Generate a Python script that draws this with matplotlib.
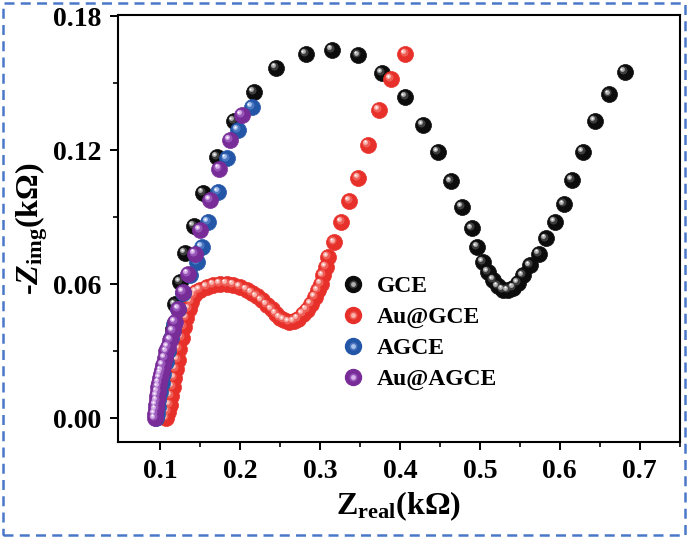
import matplotlib
matplotlib.use("Agg")
import matplotlib.pyplot as plt
from matplotlib.transforms import ScaledTranslation
from matplotlib.patches import Rectangle
from matplotlib.lines import Line2D
from matplotlib.legend_handler import HandlerTuple

# ---------------- data ----------------
gce_x = [0.108, 0.110, 0.112, 0.114, 0.116, 0.119, 0.125, 0.131, 0.142, 0.154, 0.171, 0.192,
         0.217, 0.245, 0.282, 0.315, 0.348, 0.378, 0.407, 0.429, 0.448, 0.464, 0.478, 0.490,
         0.497, 0.504, 0.510, 0.517, 0.523, 0.529, 0.535, 0.542, 0.548, 0.554, 0.5625, 0.574,
         0.583, 0.594, 0.605, 0.615, 0.629, 0.644, 0.662, 0.681]
gce_y = [0.005, 0.012, 0.020, 0.030, 0.040, 0.051, 0.061, 0.074, 0.086, 0.101, 0.117, 0.133,
         0.146, 0.157, 0.163, 0.165, 0.1625, 0.1546, 0.1439, 0.1312, 0.1193, 0.1061, 0.0946, 0.085,
         0.0767, 0.070, 0.0655, 0.0618, 0.0591, 0.0576, 0.0573, 0.0585, 0.0606, 0.064, 0.0685, 0.0737,
         0.0805, 0.0879, 0.0958, 0.1066, 0.1193, 0.1331, 0.145, 0.1551]

augce_x = [0.108, 0.110, 0.112, 0.114, 0.116, 0.118, 0.120, 0.122, 0.124, 0.127, 0.130, 0.133,
           0.136, 0.139, 0.142, 0.145, 0.150, 0.1584, 0.1667, 0.175, 0.1833, 0.1917, 0.200, 0.2083,
           0.2146, 0.2208, 0.2271, 0.2333, 0.2396, 0.245, 0.250, 0.2554, 0.2617, 0.2675, 0.2729,
           0.2783, 0.2833, 0.2888, 0.2938, 0.2979, 0.3013, 0.3042, 0.3075, 0.310, 0.318, 0.327,
           0.337, 0.348, 0.360, 0.374, 0.389, 0.407]
augce_y = [0.000, 0.003, 0.006, 0.010, 0.014, 0.018, 0.022, 0.026, 0.031, 0.036, 0.041, 0.045,
           0.049, 0.052, 0.055, 0.0565, 0.0575, 0.0588, 0.0599, 0.0603, 0.0603, 0.0599, 0.0588, 0.0576,
           0.0563, 0.0546, 0.0528, 0.0509, 0.0488, 0.0469, 0.0451, 0.0439, 0.0431, 0.0434, 0.0446,
           0.0466, 0.0487, 0.0513, 0.0543, 0.0573, 0.0603, 0.064, 0.0677, 0.0721, 0.0788, 0.0878,
           0.0972, 0.1075, 0.1225, 0.1381, 0.1519, 0.1631]

agce_x = [0.095, 0.096, 0.097, 0.098, 0.100, 0.102, 0.104, 0.107, 0.110, 0.114, 0.118, 0.123,
          0.129, 0.137, 0.146, 0.152, 0.1604, 0.173, 0.1833, 0.1979, 0.2146]
agce_y = [0.000, 0.002, 0.005, 0.008, 0.012, 0.016, 0.020, 0.025, 0.030, 0.036, 0.042, 0.049,
          0.056, 0.064, 0.070, 0.0767, 0.0879, 0.1013, 0.1163, 0.129, 0.1394]

auagce_x = [0.094, 0.094, 0.095, 0.095, 0.096, 0.096, 0.097, 0.098, 0.099, 0.100, 0.101, 0.102,
            0.104, 0.106, 0.108, 0.110, 0.113, 0.116, 0.119, 0.123, 0.129, 0.135, 0.1438, 0.150,
            0.1625, 0.1742, 0.1875, 0.202]
auagce_y = [0.000, 0.002, 0.004, 0.006, 0.008, 0.010, 0.012, 0.014, 0.016, 0.018, 0.020, 0.0215,
            0.024, 0.027, 0.030, 0.0319, 0.0350, 0.0390, 0.0431, 0.049, 0.0566, 0.0648, 0.0737, 0.0842,
            0.0976, 0.1118, 0.1245, 0.1357]

labels = ["GCE", "Au@GCE", "AGCE", "Au@AGCE"]
colors = ["#0c0c0c", "#e8302a", "#2456a8", "#782c98"]
mid = ["#4a4a4a", "#f06a62", "#5580c8", "#a061bf"]
light = ["#b0b0b0", "#f9b4ae", "#a9c2ec", "#d7b0ea"]

x_ticks = [0.1, 0.2, 0.3, 0.4, 0.5, 0.6, 0.7]
y_ticks = [0.00, 0.06, 0.12, 0.18]

# ---------------- style ----------------
plt.rcParams['font.family'] = ['Liberation Serif', 'DejaVu Serif']
plt.rcParams['font.weight'] = 'bold'
plt.rcParams['mathtext.fontset'] = 'custom'
plt.rcParams['mathtext.rm'] = 'Liberation Serif:bold'
plt.rcParams['mathtext.it'] = 'Liberation Serif:bold:italic'
plt.rcParams['mathtext.bf'] = 'Liberation Serif:bold'

fig = plt.figure(figsize=(6.88, 5.38), dpi=100)
ax = fig.add_axes([0.1715, 0.178, 0.8165, 0.794])

ms = 11.5
hl1 = ScaledTranslation(-1.4 / 72, 1.4 / 72, fig.dpi_scale_trans)
hl2 = ScaledTranslation(-2.0 / 72, 2.0 / 72, fig.dpi_scale_trans)
hl3 = ScaledTranslation(-2.3 / 72, 2.3 / 72, fig.dpi_scale_trans)

series = [(gce_x, gce_y), (augce_x, augce_y), (agce_x, agce_y), (auagce_x, auagce_y)]
handles = []
for (xs, ys), c, mc, lc, lab in zip(series, colors, mid, light, labels):
    ax.plot(xs, ys, 'o', ms=ms, mfc=c, mec=c, mew=0.5, ls='none', zorder=3)
    ax.plot(xs, ys, 'o', ms=ms * 0.5, mfc=mc, mec='none', ls='none', zorder=3,
            transform=ax.transData + hl1, alpha=0.8)
    ax.plot(xs, ys, 'o', ms=ms * 0.3, mfc=lc, mec='none', ls='none', zorder=3,
            transform=ax.transData + hl2)
    ax.plot(xs, ys, 'o', ms=ms * 0.12, mfc='white', mec='none', ls='none', zorder=3,
            transform=ax.transData + hl3)
    h1 = Line2D([], [], marker='o', ms=ms, mfc=c, mec=c, ls='none')
    h2 = Line2D([], [], marker='o', ms=ms * 0.5, mfc=mc, mec='none', ls='none', alpha=0.8)
    h3 = Line2D([], [], marker='o', ms=ms * 0.3, mfc=lc, mec='none', ls='none')
    handles.append((h1, h2, h3))

ax.set_xlim(0.0475, 0.75)
ax.set_ylim(-0.0107, 0.1805)
ax.set_xticks(x_ticks)
ax.set_xticklabels([f"{v:.1f}" for v in x_ticks])
ax.set_yticks(y_ticks)
ax.set_yticklabels([f"{v:.2f}" for v in y_ticks])
ax.set_xticks([0.15, 0.25, 0.35, 0.45, 0.55, 0.65, 0.75], minor=True)
ax.set_yticks([0.03, 0.09, 0.15], minor=True)
ax.tick_params(which='major', direction='out', length=6, width=1.4, labelsize=20, pad=6)
ax.tick_params(which='minor', direction='out', length=3.5, width=1.2)
for s in ax.spines.values():
    s.set_linewidth(1.5)

ax.set_xlabel(r'$\mathrm{Z}_{\mathrm{real}}$(kΩ)', fontsize=23, fontweight='bold', labelpad=4)
ax.set_ylabel(r'-$Z_{\mathrm{img}}$(kΩ)', fontsize=23, fontweight='bold', labelpad=2)

leg = ax.legend(handles, labels, handler_map={tuple: HandlerTuple(ndivide=1)},
                loc='upper left', bbox_to_anchor=(0.385, 0.412), frameon=False,
                fontsize=17, handlelength=0.8, handletextpad=0.6, labelspacing=0.4,
                borderaxespad=0)

fig.patches.append(Rectangle((0.005, 0.006), 0.99, 0.988, transform=fig.transFigure,
                             fill=False, edgecolor='#4a78c8', linewidth=1.8,
                             linestyle=(0, (4, 2.5)), zorder=10))

fig.savefig("out.png", dpi=100)
